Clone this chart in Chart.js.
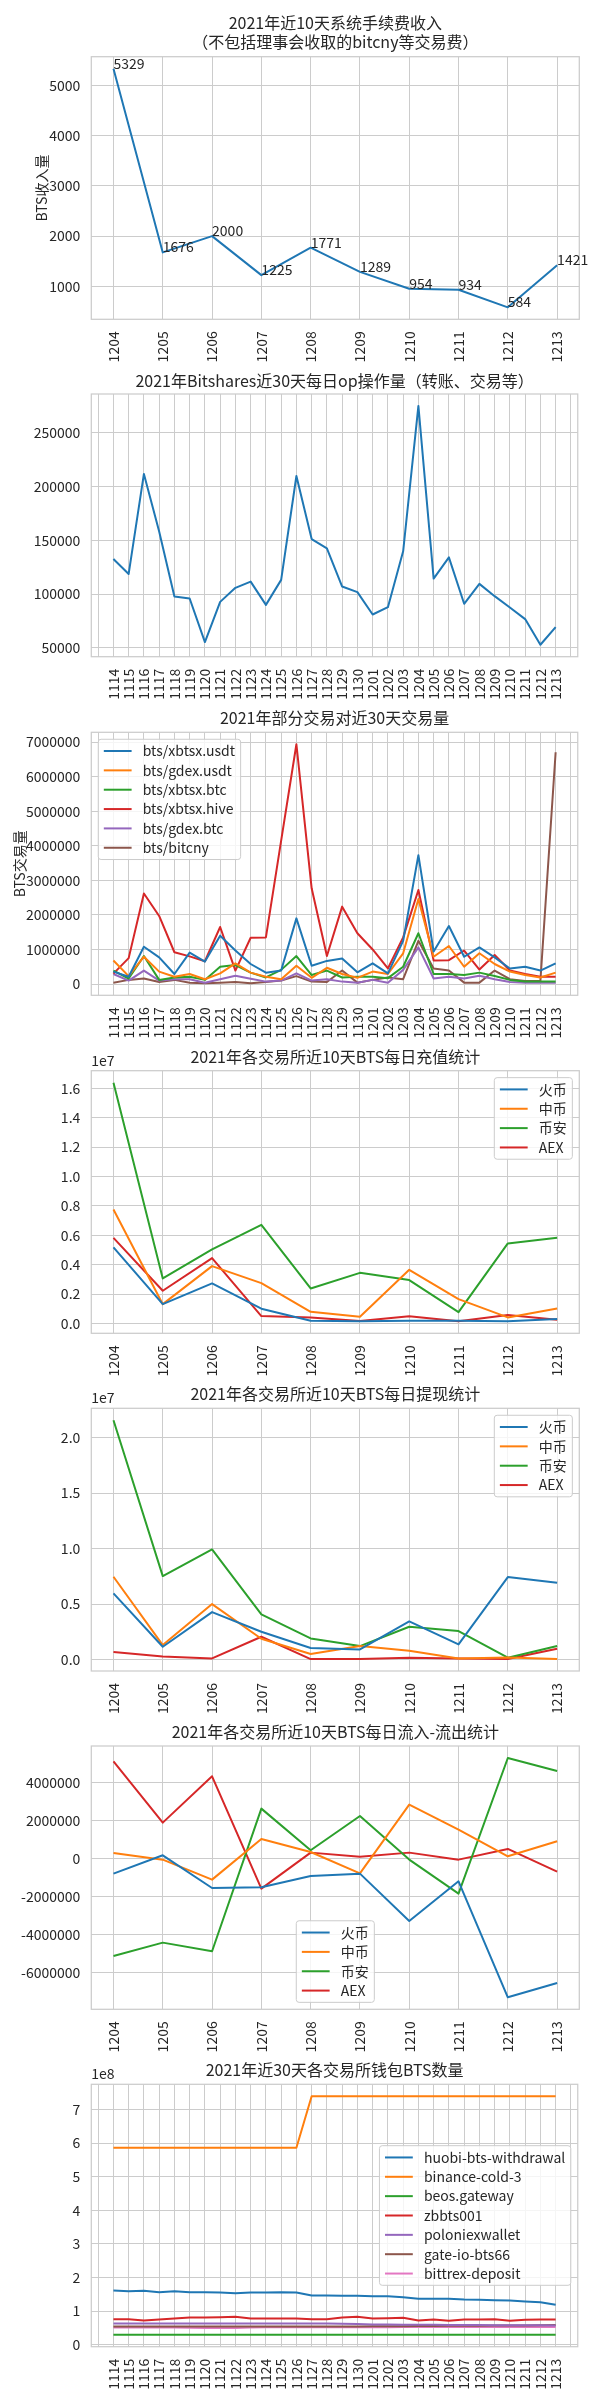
<!DOCTYPE html>
<html>
<head>
<meta charset="utf-8">
<script src="https://cdn.jsdelivr.net/npm/chart.js"></script>
<style>
html,body{margin:0;padding:0;background:#ffffff;}
body{width:600px;height:2400px;position:relative;overflow:hidden;}
canvas{position:absolute;left:0;}
</style>
</head>
<body>
<script>
// ---------------- data ----------------
const DAYS10 = ['1204','1205','1206','1207','1208','1209','1210','1211','1212','1213'];
const DAYS30 = ['1114','1115','1116','1117','1118','1119','1120','1121','1122','1123','1124','1125','1126','1127','1128','1129','1130','1201','1202','1203','1204','1205','1206','1207','1208','1209','1210','1211','1212','1213'];

const FEE_VALUES = [5329,1676,2000,1225,1771,1289,954,934,584,1421];

const OP_VALUES = [132600,118700,211500,158000,97800,95900,55500,92800,105800,111600,90000,113200,209600,151100,142400,107000,101800,81100,87900,139700,274600,114400,134100,91000,109500,98100,87600,76800,53000,69400];

const PAIR_XBTSX_USDT = [360000,210000,1080000,770000,290000,910000,650000,1400000,970000,580000,330000,390000,1900000,530000,670000,740000,340000,600000,310000,1250000,3730000,940000,1680000,790000,1060000,770000,450000,500000,390000,600000];
const PAIR_GDEX_USDT  = [680000,230000,790000,360000,210000,290000,140000,310000,600000,330000,210000,140000,530000,180000,470000,290000,180000,360000,290000,890000,2460000,790000,1100000,500000,890000,580000,360000,260000,190000,330000];
const PAIR_XBTSX_BTC  = [390000,160000,810000,120000,190000,210000,120000,500000,550000,330000,190000,410000,810000,260000,390000,190000,210000,210000,170000,500000,1470000,290000,290000,260000,330000,230000,120000,70000,70000,70000];
const PAIR_XBTSX_HIVE = [300000,750000,2620000,1970000,920000,800000,660000,1650000,390000,1340000,1350000,4150000,6940000,2770000,810000,2240000,1470000,1000000,450000,1350000,2720000,680000,690000,970000,420000,840000,390000,290000,210000,210000];
const PAIR_GDEX_BTC   = [290000,100000,390000,100000,140000,140000,40000,140000,240000,150000,70000,100000,310000,100000,140000,70000,40000,120000,40000,410000,1060000,160000,210000,160000,240000,140000,60000,40000,40000,40000];
const PAIR_BITCNY     = [40000,120000,160000,60000,120000,40000,20000,40000,60000,20000,60000,100000,230000,70000,60000,390000,40000,120000,190000,140000,1250000,450000,390000,40000,40000,390000,140000,90000,90000,6710000];

const DEP_HUOBI   = [5170000,1310000,2720000,1000000,180000,140000,180000,180000,140000,300000];
const DEP_ZB      = [7750000,1310000,3900000,2740000,790000,450000,3650000,1650000,410000,1020000];
const DEP_BINANCE = [16380000,3060000,5030000,6710000,2380000,3440000,2950000,770000,5440000,5820000];
const DEP_AEX     = [5820000,2220000,4440000,500000,410000,160000,480000,140000,570000,250000];

const WD_HUOBI   = [5970000,1170000,4290000,2520000,1050000,930000,3450000,1380000,7440000,6930000];
const WD_ZB      = [7470000,1320000,5010000,1890000,510000,1230000,810000,120000,210000,60000];
const WD_BINANCE = [21560000,7530000,9930000,4080000,1920000,1230000,2970000,2580000,180000,1230000];
const WD_AEX     = [690000,300000,120000,2070000,60000,60000,180000,120000,60000,990000];

const NET_HUOBI   = [-790000,175000,-1544000,-1509000,-912000,-790000,-3280000,-1193000,-7300000,-6544000];
const NET_ZB      = [298000,-53000,-1105000,1035000,351000,-772000,2842000,1526000,123000,912000];
const NET_BINANCE = [-5123000,-4421000,-4877000,2632000,439000,2246000,-50000,-1842000,5298000,4614000];
const NET_AEX     = [5123000,1895000,4333000,-1579000,316000,105000,316000,-53000,509000,-684000];

const W_HUOBI   = [161400000,159400000,160400000,156400000,159400000,156400000,156400000,155400000,153500000,155400000,155400000,156400000,155400000,146500000,146500000,145500000,145500000,144500000,144500000,141600000,136600000,136600000,136600000,134600000,133700000,132700000,131700000,128700000,126700000,118800000];
const W_BINANCE = [586000000,586000000,586000000,586000000,586000000,586000000,586000000,586000000,586000000,586000000,586000000,586000000,586000000,739500000,739500000,739500000,739500000,739500000,739500000,739500000,739500000,739500000,739500000,739500000,739500000,739500000,739500000,739500000,739500000,739500000];
const W_BEOS    = [29700000,29700000,29700000,29700000,29700000,29700000,29700000,29700000,29700000,29700000,29700000,29700000,29700000,29700000,29700000,29700000,29700000,29700000,29700000,29700000,29700000,29700000,29700000,29700000,29700000,29700000,29700000,29700000,29700000,29700000];
const W_ZB      = [76200000,76200000,72300000,75200000,78200000,81200000,81200000,82200000,83200000,78200000,78200000,78200000,78200000,76200000,76200000,81200000,83200000,78200000,79200000,80200000,72300000,75200000,71300000,75200000,75200000,76200000,71300000,74300000,75200000,75200000];
const W_POLO    = [63500000,63500000,63500000,63500000,63500000,63500000,63500000,63500000,63500000,63500000,63500000,63500000,63500000,63300000,63000000,62500000,61500000,60500000,60000000,59800000,59500000,59200000,59000000,58800000,58500000,58300000,58000000,58000000,57800000,57500000];
const W_GATE    = [54500000,54500000,54500000,54500000,54500000,54500000,54500000,54500000,54500000,54500000,54500000,54500000,54500000,54500000,54500000,54500000,54500000,54800000,55000000,55200000,56000000,56000000,56200000,56500000,56800000,57000000,57200000,57500000,58000000,59000000];
const W_BITTREX = [51500000,51500000,51500000,51000000,51000000,50500000,50000000,50000000,50000000,51000000,52000000,52000000,52000000,52000000,52000000,52000000,52000000,52000000,52000000,52500000,52500000,52500000,52500000,52500000,52500000,52500000,52500000,52500000,52500000,52500000];

const EXCHANGES = ['火币','中币','币安','AEX'];
const PAIRS = ['bts/xbtsx.usdt','bts/gdex.usdt','bts/xbtsx.btc','bts/xbtsx.hive','bts/gdex.btc','bts/bitcny'];
const WALLETS = ['huobi-bts-withdrawal','binance-cold-3','beos.gateway','zbbts001','poloniexwallet','gate-io-bts66','bittrex-deposit'];

// ---------------- style ----------------
const C = ['#1f77b4','#ff7f0e','#2ca02c','#d62728','#9467bd','#8c564b','#e377c2'];
const FONT = "'Liberation Sans Narrow', 'Noto Sans CJK SC', sans-serif";
const TXT = '#262626';
const GRID = '#cccccc';
const PLOT_LEFT = 91.3, PLOT_RIGHT = 579.3;

Chart.defaults.font.family = FONT;
Chart.defaults.font.size = 14;
Chart.defaults.color = TXT;

function drawLegend(chart, loc) {
  const ctx = chart.ctx, ca = chart.chartArea, fs = 13.9;
  const items = chart.data.datasets;
  ctx.font = '14px ' + FONT;
  const bp = 0.4*fs, hl = 2*fs, htp = 0.8*fs, ls = 0.5*fs, th = 12.4, ap = 0.5*fs;
  const tw = Math.max(...items.map(d => ctx.measureText(d.label).width));
  const w = 2*bp + hl + htp + tw;
  const h = 2*bp + items.length*th + (items.length-1)*ls;
  let x, y;
  if (loc === 'upper left') { x = ca.left + ap; y = ca.top + ap; }
  else if (loc === 'upper right') { x = ca.right - ap - w; y = ca.top + ap; }
  else if (loc === 'lower center') { x = (ca.left + ca.right)/2 - w/2; y = ca.bottom - ap - h; }
  else { x = ca.right - ap - w; y = (ca.top + ca.bottom)/2 - h/2; }
  ctx.beginPath();
  ctx.roundRect(x, y, w, h, 2.8);
  ctx.fillStyle = 'rgba(255,255,255,0.8)';
  ctx.fill();
  ctx.strokeStyle = GRID; ctx.lineWidth = 1; ctx.stroke();
  items.forEach((d, i) => {
    const cy = y + bp + i*(th + ls) + th/2;
    ctx.strokeStyle = d.borderColor; ctx.lineWidth = 2; ctx.lineCap = 'butt';
    ctx.beginPath(); ctx.moveTo(x + bp, cy); ctx.lineTo(x + bp + hl, cy); ctx.stroke();
    ctx.fillStyle = TXT; ctx.textAlign = 'left'; ctx.textBaseline = 'middle';
    ctx.fillText(d.label, x + bp + hl + htp, cy);
  });
}

const mplExtras = {
  id: 'mplExtras',
  afterDatasetsDraw(chart, args, o) {
    const ctx = chart.ctx, ca = chart.chartArea;
    ctx.save();
    ctx.strokeStyle = GRID; ctx.lineWidth = 1.25;
    ctx.strokeRect(ca.left, ca.top, ca.right - ca.left, ca.bottom - ca.top);
    ctx.fillStyle = TXT; ctx.font = '14px ' + FONT;
    if (o.pointLabels) {
      const meta = chart.getDatasetMeta(0), ds = chart.data.datasets[0];
      ctx.textAlign = 'left'; ctx.textBaseline = 'alphabetic';
      meta.data.forEach((p, i) => ctx.fillText(String(ds.data[i].y), p.x, p.y));
    }
    if (o.offsetText) {
      ctx.textAlign = 'left'; ctx.textBaseline = 'alphabetic';
      ctx.fillText(o.offsetText, ca.left, ca.top - 5);
    }
    if (o.legendLoc) drawLegend(chart, o.legendLoc);
    ctx.restore();
  }
};
Chart.register(mplExtras);

function ser(labels, arrays) {
  return arrays.map((a, i) => ({label: labels[i], values: a, color: C[i]}));
}

const SPECS = [
  {title: ['2021年近10天系统手续费收入', '（不包括理事会收取的bitcny等交易费）'], cats: DAYS10,
   series: [{label: 'BTS收入量', values: FEE_VALUES, color: C[0]}], step: 1000, fmt: v => String(v),
   ylabel: 'BTS收入量', ylabelX: 41.7, titleY: 23, plotTop: 56.7, plotBottom: 319.3, pointLabels: true},
  {title: '2021年Bitshares近30天每日op操作量（转账、交易等）', cats: DAYS30,
   series: [{label: 'op', values: OP_VALUES, color: C[0]}], step: 50000, fmt: v => String(v),
   titleY: 381, plotTop: 394, plotBottom: 656.7},
  {title: '2021年部分交易对近30天交易量', cats: DAYS30,
   series: ser(PAIRS, [PAIR_XBTSX_USDT, PAIR_GDEX_USDT, PAIR_XBTSX_BTC, PAIR_XBTSX_HIVE, PAIR_GDEX_BTC, PAIR_BITCNY]),
   step: 1000000, fmt: v => String(v), ylabel: 'BTS交易量', ylabelX: 19.5,
   titleY: 718, plotTop: 732.3, plotBottom: 995.3, legendLoc: 'upper left'},
  {title: '2021年各交易所近10天BTS每日充值统计', cats: DAYS10,
   series: ser(EXCHANGES, [DEP_HUOBI, DEP_ZB, DEP_BINANCE, DEP_AEX]),
   step: 2000000, fmt: v => (v/1e7).toFixed(1), offsetText: '1e7',
   titleY: 1057, plotTop: 1070.7, plotBottom: 1333.3, legendLoc: 'upper right'},
  {title: '2021年各交易所近10天BTS每日提现统计', cats: DAYS10,
   series: ser(EXCHANGES, [WD_HUOBI, WD_ZB, WD_BINANCE, WD_AEX]),
   step: 5000000, fmt: v => (v/1e7).toFixed(1), offsetText: '1e7',
   titleY: 1394.3, plotTop: 1408.3, plotBottom: 1671, legendLoc: 'upper right'},
  {title: '2021年各交易所近10天BTS每日流入-流出统计', cats: DAYS10,
   series: ser(EXCHANGES, [NET_HUOBI, NET_ZB, NET_BINANCE, NET_AEX]),
   step: 2000000, fmt: v => String(v),
   titleY: 1732.3, plotTop: 1746, plotBottom: 2009.3, legendLoc: 'lower center'},
  {title: '2021年近30天各交易所钱包BTS数量', cats: DAYS30,
   series: ser(WALLETS, [W_HUOBI, W_BINANCE, W_BEOS, W_ZB, W_POLO, W_GATE, W_BITTREX]),
   step: 100000000, fmt: v => (v/1e8).toFixed(0), offsetText: '1e8',
   titleY: 2070, plotTop: 2084.3, plotBottom: 2346.7, legendLoc: 'center right'}
];

function stepTicks(scale, step) {
  const t = [];
  const k0 = Math.ceil(scale.min / step - 1e-9), k1 = Math.floor(scale.max / step + 1e-9);
  for (let k = k0; k <= k1; k++) t.push({value: k * step});
  scale.ticks = t;
}

function build(spec) {
  const lineH = 16*1.2;
  const nLines = Array.isArray(spec.title) ? spec.title.length : 1;
  const canvasTop = Math.max(0, Math.floor(spec.titleY - 26));
  const canvasH = Math.ceil(spec.plotBottom - canvasTop + 56);
  const xh = canvasH - (spec.plotBottom - canvasTop);
  const padTop = spec.titleY - canvasTop - lineH/2;
  const padBottom = spec.plotTop - canvasTop - padTop - nLines*lineH;

  const cv = document.createElement('canvas');
  cv.width = 600; cv.height = canvasH;
  cv.style.top = canvasTop + 'px';
  cv.style.width = '600px'; cv.style.height = canvasH + 'px';
  document.body.appendChild(cv);

  const n = spec.cats.length;
  const all = spec.series.flatMap(s => s.values);
  const lo = Math.min(...all), hi = Math.max(...all), pad = (hi - lo)*0.05;

  new Chart(cv, {
    type: 'line',
    data: {
      datasets: spec.series.map(s => ({
        label: s.label,
        data: s.values.map((v, i) => ({x: i, y: v})),
        borderColor: s.color, backgroundColor: s.color,
        borderWidth: 2, pointRadius: 0, pointHoverRadius: 0, tension: 0, fill: false,
        borderJoinStyle: 'round'
      }))
    },
    options: {
      responsive: false, animation: false, devicePixelRatio: 1,
      events: [],
      layout: {padding: {left: 0, right: 600 - PLOT_RIGHT, top: 0, bottom: 0}},
      plugins: {
        legend: {display: false},
        tooltip: {enabled: false},
        title: {display: true, text: spec.title, fullSize: false, color: TXT,
                font: {size: 16, weight: 'normal', lineHeight: 1.2},
                padding: {top: padTop, bottom: padBottom}},
        mplExtras: {pointLabels: !!spec.pointLabels, offsetText: spec.offsetText || '', legendLoc: spec.legendLoc || ''}
      },
      scales: {
        x: {
          type: 'linear', min: -0.05*(n-1), max: (n-1)*1.05,
          afterBuildTicks: s => stepTicks(s, 1),
          afterFit: s => { s.height = xh; },
          grid: {color: GRID, lineWidth: 1, drawTicks: false},
          border: {display: false},
          ticks: {autoSkip: false, minRotation: 90, maxRotation: 90,
                  padding: 12, color: TXT, font: {size: 14},
                  callback: v => { const k = Math.round(v); return Math.abs(v - k) < 1e-6 && spec.cats[k] ? spec.cats[k] : ''; }}
        },
        y: {
          type: 'linear', min: lo - pad, max: hi + pad,
          afterBuildTicks: s => stepTicks(s, spec.step),
          afterFit: s => { s.width = PLOT_LEFT; },
          grid: {color: GRID, lineWidth: 1, drawTicks: false},
          border: {display: false},
          ticks: {autoSkip: false, padding: 11, color: TXT, font: {size: 14},
                  callback: spec.fmt},
          title: spec.ylabel ? {display: true, text: spec.ylabel, color: TXT, font: {size: 14, lineHeight: 1.2},
                                padding: {top: spec.ylabelX - 8.4, bottom: 0}} : {display: false}
        }
      }
    }
  });
}

SPECS.forEach(build);
</script>
</body>
</html>
